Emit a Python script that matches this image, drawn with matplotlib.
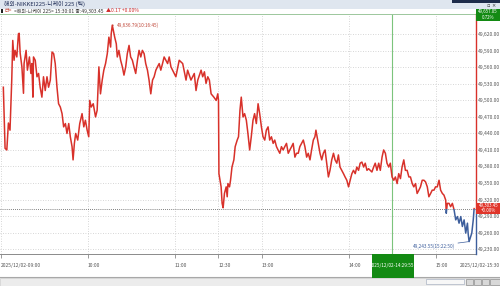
import matplotlib
matplotlib.use("Agg")
import matplotlib.pyplot as plt
from matplotlib.patches import Rectangle

plt.rcParams['font.family'] = ['Noto Sans CJK KR', 'DejaVu Sans']

# ---------------- data ----------------
title_text = "해외-NIKKEI225-니케이 225 (틱)"
info_prefix = "러>"
info_text = "<해외-니케이 225> 15:30:01 종:49,303.45"
info_change = "▲0.17 +0.00%"
prev_close = 49303.28
last_price_label = ("49,303.45", "+0.00%")
top_label = ("49,657.05", "0.72%")
high_price, high_label = 49636.79, "49,636.79(10:16:45)"
high_minute = 76.75
low_price, low_label = 49243.55, "49,243.55(15:22:50)"
low_minute = 322.83
cursor_minute = 269.9
cursor_label = "2025/12/02-14:29:55"

# trading minutes since 09:00 (lunch break 11:30-12:30 removed)
minutes = [
    1.6, 2.8, 4.0, 5.1, 6.2, 7.4, 8.1, 9.0, 9.7, 10.9, 12.0, 12.5, 13.2, 14.4, 15.5, 15.9,
    17.3, 18.2, 19.6, 20.6, 21.3, 22.0, 22.4, 23.6, 24.8, 25.9, 27.0, 28.2, 29.3, 30.5, 31.7,
    32.8, 34.0, 35.2, 36.3, 37.4, 38.6, 39.7, 40.9, 42.1, 43.2, 44.4, 45.5, 46.7, 47.8, 49.0,
    49.7, 50.6, 51.5, 52.9, 54.3, 55.9, 57.1, 58.2, 59.4, 60.5, 61.2, 62.2, 63.6, 65.2, 66.3,
    67.5, 68.6, 69.8, 70.9, 72.1, 73.3, 74.4, 75.6, 76.0, 76.75, 78.4, 79.5, 80.2, 81.3, 82.5,
    83.7, 84.8, 86.0, 87.1, 88.3, 89.4, 90.6, 91.7, 92.9, 94.1, 95.2, 96.4, 97.5, 98.7, 99.8,
    101.0, 102.1, 103.3, 104.5, 105.6, 106.8, 107.9, 109.1, 110.2, 111.4, 112.5, 113.7, 114.9,
    116.0, 117.2, 120.6, 122.9, 125.3, 127.6, 128.7, 131.0, 133.3, 134.5, 135.7, 138.0, 139.1,
    140.3, 141.4, 142.6, 143.7, 144.9, 146.8, 148.4, 149.5, 150.0,
    150.3, 151.8, 152.5, 153.2, 154.1, 155.3, 156.0, 156.5, 157.6, 158.3, 159.3, 160.6, 161.5,
    162.9, 163.8, 164.8, 165.7, 166.9, 168.0, 169.2, 170.3, 171.5, 172.6, 173.8, 174.9, 176.1,
    177.3, 178.4, 179.6, 180.7, 181.9, 183.0, 184.2, 185.3, 186.5, 187.7, 188.8, 190.0, 191.1,
    192.3, 193.4, 194.6, 195.7, 196.9, 198.1, 199.2, 200.4, 201.5, 202.7, 203.8, 205.0, 206.1,
    207.3, 208.5, 209.6, 210.8, 211.9, 213.1, 214.2, 215.4, 216.5, 217.2, 218.4, 220.0, 221.2,
    222.3, 223.5, 224.6, 225.8, 226.9, 228.1, 229.3, 230.4, 231.6, 232.7, 233.8, 235.0, 236.2,
    237.3, 238.5, 239.7, 240.8, 242.0, 243.1, 244.3, 245.4, 246.6, 247.7, 248.9, 250.1, 251.2,
    252.4, 253.5, 254.7, 255.8, 257.0, 258.1, 259.3, 260.5, 261.6, 262.8, 263.9, 265.1, 266.2,
    267.4, 268.5, 269.7, 270.9, 272.0, 273.2, 274.3, 275.5, 276.6, 277.8, 278.9, 280.1, 281.3,
    282.4, 283.6, 284.7, 285.9, 287.0, 288.2, 289.3, 290.5, 291.7, 292.8, 294.0, 295.1, 296.3,
    297.4, 298.6, 299.7, 300.9, 302.1, 303.2, 304.4, 305.5, 306.7, 307.1, 307.8, 309.0, 310.1,
    311.3, 312.5, 313.6, 314.8, 315.9, 317.1, 318.2, 319.4, 320.5, 321.7, 322.2, 322.83, 324.7,
    325.2, 325.7, 326.3,
]
prices = [
    49524, 49413, 49410, 49459, 49446, 49537, 49609, 49573, 49591, 49579, 49621, 49622, 49586, 49561, 49513, 49567,
    49591, 49555, 49579, 49549, 49567, 49506, 49579, 49573, 49543, 49549, 49524, 49506, 49543, 49518, 49543,
    49524, 49537, 49588, 49585, 49567, 49524, 49494, 49488, 49476, 49452, 49458, 49440, 49458, 49434, 49416,
    49392, 49422, 49440, 49428, 49458, 49476, 49452, 49464, 49446, 49434, 49500, 49488, 49494, 49470, 49482,
    49561, 49512, 49537, 49555, 49567, 49585, 49615, 49597, 49621, 49636.79, 49615, 49603, 49579, 49591, 49573,
    49561, 49546, 49561, 49585, 49600, 49579, 49573, 49561, 49549, 49573, 49591, 49579, 49591, 49585, 49567,
    49555, 49537, 49512, 49537, 49543, 49555, 49561, 49567, 49555, 49567, 49579, 49573, 49567,
    49579, 49561, 49543, 49573, 49567, 49537, 49555, 49537, 49549, 49518, 49537, 49555, 49543,
    49552, 49531, 49543, 49537, 49512, 49506, 49500, 49512, 49500,
    49367, 49343, 49313, 49305, 49331, 49343, 49325, 49349, 49343, 49355, 49379, 49392, 49416,
    49428, 49434, 49482, 49506, 49470, 49476, 49464, 49440, 49410, 49434, 49464, 49476, 49458,
    49494, 49476, 49452, 49434, 49428, 49446, 49452, 49428, 49434, 49422, 49428, 49416, 49410,
    49404, 49416, 49410, 49416, 49422, 49404, 49410, 49416, 49422, 49397, 49404, 49404, 49416,
    49422, 49428, 49416, 49397, 49404, 49392, 49410, 49428, 49434, 49446, 49428, 49404, 49392,
    49404, 49410, 49386, 49361, 49373, 49392, 49404, 49392, 49386, 49401, 49379, 49373, 49367,
    49361, 49355, 49343, 49355, 49367, 49373, 49367, 49379, 49373, 49386, 49388, 49379, 49386,
    49373, 49376, 49373, 49370, 49379, 49386, 49373, 49386, 49373, 49397, 49410, 49404, 49386,
    49379, 49386, 49361, 49355, 49361, 49349, 49367, 49358, 49379, 49392, 49373, 49373, 49361,
    49361, 49349, 49343, 49349, 49331, 49337, 49343, 49355, 49355, 49352, 49343, 49325, 49331,
    49337, 49337, 49343, 49343, 49355, 49337, 49331, 49328, 49319, 49295, 49313, 49313, 49307,
    49313, 49301, 49283, 49289, 49277, 49289, 49271, 49283, 49259, 49277, 49258, 49243.55, 49259,
    49271, 49283, 49303.45,
]

y_ticks = [49230, 49260, 49290, 49320, 49350, 49380, 49410, 49440, 49470, 49500,
           49530, 49560, 49590, 49620]
x_ticks = [0, 60, 120, 150, 180, 240, 300]
x_labels = ["2025/12/02-09:00", "10:00", "11:00", "12:30", "13:00", "14:00", "15:00"]
end_label = "2025/12/02-15:30"

# ---------------- styling ----------------
RED = "#d8312a"
BLUE = "#3d5e9c"
GREEN = "#138a13"
W, H = 500, 286

fig = plt.figure(figsize=(5.0, 2.86), dpi=100)
fig.patch.set_facecolor("white")

def fx(px):
    return px / W

def fy(py):
    return 1 - py / H

ax = fig.add_axes([0, fy(254), fx(476), fy(14) - fy(254)])
ax.set_facecolor("white")
x0, x1 = -0.7, 327.6
y0, y1 = 49221.0, 49657.05
ax.set_xlim(x0, x1)
ax.set_ylim(y0, y1)

for s in ["left", "right"]:
    ax.spines[s].set_visible(False)
ax.spines["top"].set_color("#9cc79c")
ax.spines["top"].set_linewidth(0.7)
ax.spines["bottom"].set_color("#8a8a8a")
ax.spines["bottom"].set_linewidth(0.7)

ax.set_yticks(y_ticks)
ax.set_yticklabels([f"{v:,.2f}" for v in y_ticks])
ax.yaxis.tick_right()
ax.tick_params(axis="y", length=0, pad=1.6, labelsize=3.6, labelcolor="#555555")
ax.set_xticks(x_ticks)
ax.set_xticklabels(x_labels)
for lab in ax.get_xticklabels():
    lab.set_horizontalalignment("left")
ax.tick_params(axis="x", length=3, width=0.6, color="#8a8a8a", pad=3.5,
               labelsize=3.6, labelcolor="#555555")
ax.grid(True, linestyle=(0, (1, 2)), color="#c9c9c9", linewidth=0.6)
ax.set_axisbelow(True)

# price line: red above previous close, blue below
line_up, = ax.plot(minutes, prices, color=RED, lw=1.1, zorder=3)
line_dn, = ax.plot(minutes, prices, color=BLUE, lw=1.1, zorder=3)
clip_up = Rectangle((x0, prev_close), x1 - x0, y1 - prev_close, transform=ax.transData)
clip_dn = Rectangle((x0, y0), x1 - x0, prev_close - y0, transform=ax.transData)
line_up.set_clip_path(clip_up)
line_dn.set_clip_path(clip_dn)

# previous close dotted line
ax.axhline(prev_close, color="#555555", lw=0.6, linestyle=(0, (1, 1.5)), zorder=2)

# right axis line coloured by side
ax.plot([x1, x1], [prev_close, y1], color=RED, lw=1.0, clip_on=False, zorder=4)
ax.plot([x1, x1], [y0, prev_close], color=BLUE, lw=1.0, clip_on=False, zorder=4)

# cursor line
ax.axvline(cursor_minute, color="#7cc47c", lw=0.8, zorder=2)

# high / low annotations
ax.annotate(high_label, xy=(high_minute, high_price), xytext=(3, 0),
            textcoords="offset points", ha="left", va="center", fontsize=3.4,
            color="#c0483a",
            arrowprops=dict(arrowstyle="-", color="#c0483a", lw=0.5, shrinkA=0, shrinkB=0))
ax.annotate(low_label, xy=(low_minute, low_price), xytext=(-10, -3.3),
            textcoords="offset points", ha="right", va="center", fontsize=3.4,
            color=BLUE,
            arrowprops=dict(arrowstyle="-", color=BLUE, lw=0.5, shrinkA=0, shrinkB=0))

# ---------------- header ----------------
fig.patches.append(Rectangle((0, fy(8.5)), 1, 8.5 / H, transform=fig.transFigure,
                             facecolor="#dfe6ef", edgecolor="none", zorder=0))
fig.patches.append(Rectangle((fx(452), fy(3)), fx(48), 3 / H, transform=fig.transFigure,
                             facecolor="#1e2c4a", edgecolor="none", zorder=1))
fig.text(fx(4), fy(4.3), title_text, fontsize=4.2, color="#1d2b55", va="center", ha="left")
fig.text(fx(487), fy(5.5), "▫ ×", fontsize=3.6, color="#333333", va="center", ha="left",
         family=["DejaVu Sans"])

fig.patches.append(Rectangle((fx(1), fy(13)), fx(2), 4 / H, transform=fig.transFigure,
                             facecolor="#222222", edgecolor="none"))
fig.text(fx(5), fy(11), info_prefix, fontsize=3.6, color="#c03a2a", va="center", ha="left")
fig.text(fx(14), fy(11), info_text, fontsize=3.6, color="#333333", va="center", ha="left")
fig.text(fx(106), fy(11), info_change, fontsize=3.6, color="#d02a2a", va="center", ha="left")

# top-right green value box
fig.patches.append(Rectangle((fx(476), fy(20.5)), fx(24), 11.5 / H, transform=fig.transFigure,
                             facecolor=GREEN, edgecolor="none", zorder=3))
fig.text(fx(488), fy(12), top_label[0], fontsize=3.2, color="white", ha="center", va="center",
         zorder=4)
fig.text(fx(488), fy(17.5), top_label[1], fontsize=3.2, color="white", ha="center",
         va="center", zorder=4)

# last price red box
fig.patches.append(Rectangle((fx(476), fy(214)), fx(24), 11 / H, transform=fig.transFigure,
                             facecolor="#e0352a", edgecolor="none", zorder=3))
fig.text(fx(488.5), fy(206), last_price_label[0], fontsize=3.2, color="white", ha="center",
         va="center", zorder=4)
fig.text(fx(488.5), fy(211), last_price_label[1], fontsize=3.2, color="white", ha="center",
         va="center", zorder=4)

# cursor time box on x axis
cx = 1 + (cursor_minute - x0) / (x1 - x0) * 475
fig.patches.append(Rectangle((fx(cx - 21), fy(277.5)), fx(42.5), 23.5 / H,
                             transform=fig.transFigure, facecolor=GREEN, edgecolor="none",
                             zorder=3))
fig.text(fx(cx), fy(266), cursor_label, fontsize=3.4, color="white", ha="center", va="center",
         zorder=4)

# end label
fig.text(fx(499.5), fy(266), end_label, fontsize=3.6, color="#555555", ha="right", va="center")

# ---------------- bottom scroll bar ----------------
fig.lines.append(plt.Line2D([0, 1], [fy(276.5), fy(276.5)], transform=fig.transFigure,
                            color="#a8a8a8", lw=0.8))
fig.patches.append(Rectangle((0, fy(285.5)), 1, 8 / H, transform=fig.transFigure,
                             facecolor="#ececec", edgecolor="#c4c4c4", lw=0.4))
fig.patches.append(Rectangle((fx(426), fy(284)), fx(38), 5 / H, transform=fig.transFigure,
                             facecolor="#f7f7f7", edgecolor="#9aa4b8", lw=0.4))
for bx in [466, 474, 482]:
    fig.patches.append(Rectangle((fx(bx), fy(284.5)), fx(7), 6 / H, transform=fig.transFigure,
                                 facecolor="#d8d8d8", edgecolor="#7a7a7a", lw=0.4))
fig.patches.append(Rectangle((fx(490), fy(284.5)), fx(9.5), 6 / H, transform=fig.transFigure,
                             facecolor="#d8d8d8", edgecolor="#7a7a7a", lw=0.4))

fig.savefig("out.png", dpi=100)
